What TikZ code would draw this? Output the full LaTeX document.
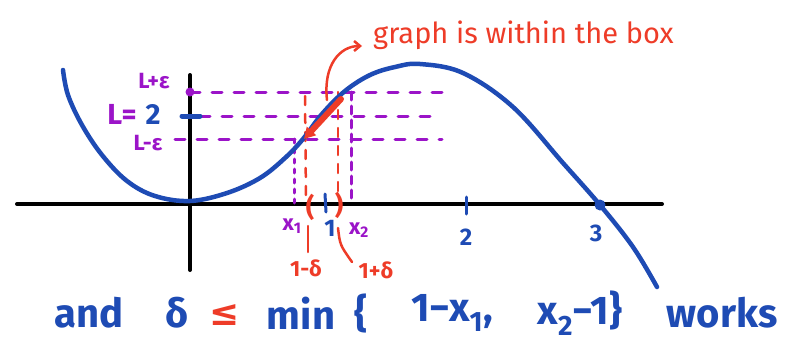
\documentclass[tikz,border=0pt]{standalone}
\usepackage{fontspec}
\setmainfont{Fira Sans}
\newfontfamily\symfont{DejaVu Sans}
\usetikzlibrary{arrows.meta}
\definecolor{pblue}{RGB}{30,75,180}
\definecolor{ppurple}{RGB}{155,20,200}
\definecolor{pred}{RGB}{238,60,40}
\begin{document}
\begin{tikzpicture}[x=1pt,y=-1pt, line cap=round, line join=round,
 curve/.style={pblue, line width=4.5pt},
 axis/.style={black, line width=4pt},
 pdash/.style={ppurple, line width=3pt, dash pattern=on 10pt off 12pt},
 pdot/.style={ppurple, line width=3pt, dash pattern=on 4pt off 6pt},
 rdash/.style={pred, line width=2.5pt, dash pattern=on 9pt off 9pt},
 rline/.style={pred, line width=2.5pt},
 ptxt/.style={ppurple, font=\bfseries\fontsize{22}{22}\selectfont, inner sep=0},
 btxt/.style={pblue, font=\bfseries\fontsize{24}{24}\selectfont, inner sep=0},
 rtxt/.style={pred, font=\bfseries\fontsize{22}{22}\selectfont, inner sep=0},
 bigtxt/.style={pblue, font=\bfseries\fontsize{40}{40}\selectfont, inner sep=0},
]
\useasboundingbox (0,0) rectangle (785,343);
\fill[white] (0,0) rectangle (785,343);

% axes
\coordinate (xa0) at (17,204); \coordinate (xa1) at (662,204);
\coordinate (ya0) at (190,75); \coordinate (ya1) at (190,270);
\draw[axis] (xa0) -- (xa1);
\draw[axis] (ya0) -- (ya1);

% horizontal purple dashed lines
\coordinate (hp0) at (190,92); \coordinate (hp1) at (442,92);
\coordinate (hl0) at (200,116); \coordinate (hl1) at (440,116);
\coordinate (hm0) at (175,139); \coordinate (hm1) at (442,139);
\draw[pdash] (hp0) -- (hp1);
\draw[pdash] (hl0) -- (hl1);
\draw[pdash] (hm0) -- (hm1);

% vertical purple lines
\coordinate (v10) at (294,139); \coordinate (v11) at (294,204);
\coordinate (v20) at (351,92); \coordinate (v21) at (351,200);
\draw[pdot] (v10) -- (v11);
\draw[pdash, dash pattern=on 8pt off 6pt] (v20) -- (v21);

% vertical red dashed lines
\coordinate (r10) at (305,96); \coordinate (r11) at (306,200);
\coordinate (r20) at (338,92); \coordinate (r21) at (338,192);
\draw[rdash] (r10) -- (r11);
\draw[rdash] (r20) -- (r21);

% the curve
\draw[curve] plot[smooth, tension=0.6] coordinates {(63,70) (68,95) (82,125) (102,155) (127,181) (155,196) (190,201) (227,193) (260,178) (285,158) (303,139) (322,114) (345,91) (370,75) (395,67) (420,64) (463,73) (513,107) (563,163) (600,205) (633,247) (657,287)};

% marks on y-axis
\fill[ppurple] (hp0) circle (4.5pt);
\coordinate (bd0) at (182,116); \coordinate (bd1) at (200,116);
\draw[pblue, line width=5pt] (bd0) -- (bd1);

% ticks and point 3
\coordinate (t10) at (325,194); \coordinate (t11) at (326,212);
\coordinate (t20) at (466,197); \coordinate (t21) at (466,214);
\draw[pblue, line width=3pt] (t10) -- (t11);
\draw[pblue, line width=3pt] (t20) -- (t21);
\fill[pblue] (600,205) circle (5.5pt);

% y labels
\node[ptxt] (lpe) at (154,81) {L+ε};
\node[ptxt, font=\bfseries\fontsize{29}{29}\selectfont] (leq) at (122,114) {L=};
\node[btxt, font=\bfseries\fontsize{29}{29}\selectfont] (ltwo) at (153,114) {2};
\node[ptxt] (lme) at (148,143) {L-ε};

% x labels
\node[btxt] (one) at (330,228) {1};
\node[btxt] (two) at (466,237) {2};
\node[btxt] (three) at (596,233) {3};
\node[ptxt] (xone) at (292,226) {x\textsubscript{1}};
\node[ptxt] (xtwo) at (359,230) {x\textsubscript{2}};
\node[rtxt, font=\bfseries\fontsize{26}{26}\selectfont] (lpar) at (310,207) {(};
\node[rtxt, font=\bfseries\fontsize{26}{26}\selectfont] (rpar) at (339,205) {)};
\node[rtxt] (lmd) at (306,268) {1-δ};
\node[rtxt] (lpd) at (376,270) {1+δ};
\coordinate (p0) at (308,226); \coordinate (p1) at (308,252);
\draw[rline] (p0) -- (p1);
\coordinate (q0) at (338,228); \coordinate (q1) at (352,262);
\draw[rline] (q0) .. controls (340,245) .. (q1);

% red thick arrow
\coordinate (ta0) at (341,99); \coordinate (ta1) at (304,139);
\draw[pred, line width=6pt, -{Triangle[length=11pt, width=12pt]}] (ta0) -- (ta1);

% annotation
\node[rtxt, font=\fontsize{29}{29}\selectfont, anchor=west] (note) at (373,35) {graph is within the box};
\coordinate (ca0) at (327,100); \coordinate (ca1) at (362,46);
\draw[rline, -{Straight Barb[length=6pt, width=10pt]}] (ca0) .. controls (323,65) and (340,46) .. (ca1);

% bottom statement
\node[bigtxt] (w1) at (89,313) {and};
\node[bigtxt] (w2) at (177,313) {δ};
\node[bigtxt, pred, font=\symfont\bfseries\fontsize{36}{36}\selectfont] (w3) at (225,315) {≤};
\node[bigtxt] (w4) at (301,313) {min};
\node[bigtxt] (w5) at (361,313) {\{};
\node[bigtxt] (w6) at (452,313) {1−x\textsubscript{1},};
\node[bigtxt] (w7) at (580,313) {x\textsubscript{2}−1\}};
\node[bigtxt] (w8) at (722,313) {works};
\end{tikzpicture}
\end{document}
